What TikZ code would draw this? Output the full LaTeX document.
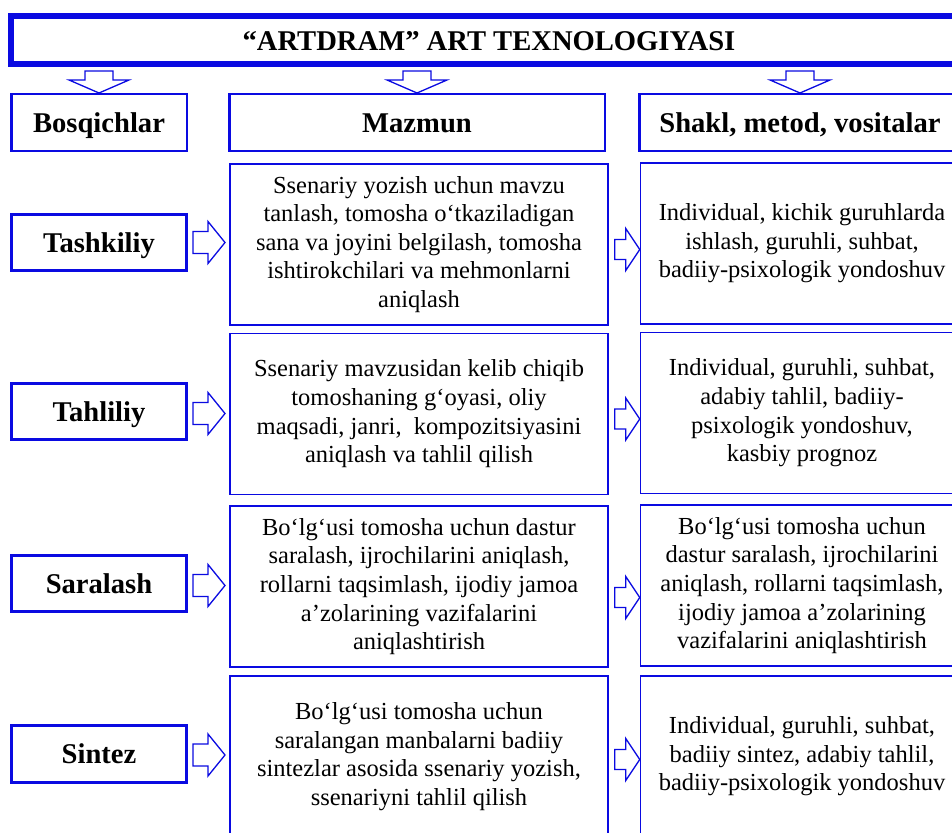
\documentclass[tikz,border=0pt]{standalone}
\usepackage{fontspec}
\setmainfont{Liberation Serif}
\usetikzlibrary{calc}
\definecolor{frameblue}{RGB}{10,10,225}
\tikzset{
  titlebox/.style={draw=frameblue, line width=6pt, minimum width=956pt, minimum height=48pt,
    text height=20pt, text depth=0pt, font=\bfseries\fontsize{28.6}{33}\selectfont},
  headbox/.style={draw=frameblue, line width=2.5pt, minimum height=56.5pt,
    text height=19.5pt, text depth=0pt, font=\bfseries\fontsize{28.6}{33}\selectfont},
  stagebox/.style={draw=frameblue, line width=3pt, minimum width=175pt, minimum height=56.5pt,
    text height=19.5pt, text depth=0pt, font=\bfseries\fontsize{28.6}{33}\selectfont},
  textbox/.style={draw=frameblue, line width=1.5pt, minimum height=161pt, align=center,
    inner sep=0pt, font=\fontsize{24.5}{28.6}\selectfont},
  midbox/.style={textbox, minimum width=378pt},
  formbox/.style={textbox, minimum width=323pt},
  hollow/.style={draw=frameblue, fill=white, line width=1.3pt, line join=miter},
  downarr/.pic={\draw[hollow] (-14,0) -- (-14,9) -- (-30,9) -- (0,22) -- (30,9) -- (14,9) -- (14,0) -- cycle;},
  stagearr/.pic={\draw[hollow] (0,-11) -- (15,-11) -- (15,-21) -- (32,0) -- (15,21) -- (15,11) -- (0,11) -- cycle;},
  formarr/.pic={\draw[hollow] (0,-10) -- (11,-10) -- (11,-21) -- (25,0) -- (11,21) -- (11,10) -- (0,10) -- cycle;}
}
\begin{document}
\begin{tikzpicture}[x=1pt,y=-1pt]
  \useasboundingbox (0,0) rectangle (952,832);
  \clip (0,0) rectangle (952,832);
  \node [titlebox] (title) at (489,40.5) {“ARTDRAM” ART TEXNOLOGIYASI};

  \node [headbox, minimum width=175.5pt] (bosq) at (99,122.5) {Bosqichlar};
  \node [headbox, minimum width=375.5pt] (mazm) at (417,122.5) {Mazmun};
  \node [headbox, minimum width=321.5pt] (shak) at (800,122.5) {Shakl, metod, vositalar};
  \pic at ($(bosq.north)+(0,-22)$) {downarr};
  \pic at ($(mazm.north)+(0,-22)$) {downarr};
  \pic at ($(shak.north)+(0,-22)$) {downarr};

  \node [stagebox] (tash) at (99,242.5) {Tashkiliy};
  \node [stagebox] (tahl) at (99,411.5) {Tahliliy};
  \node [stagebox] (sara) at (99,583.5) {Saralash};
  \node [stagebox] (sint) at (99,754) {Sintez};

  \node [midbox] (mid1) at (419,244.5) {Ssenariy yozish uchun mavzu\\ tanlash, tomosha o‘tkaziladigan\\ sana va joyini belgilash, tomosha\\ ishtirokchilari va mehmonlarni\\ aniqlash};
  \node [midbox] (mid2) at (419,414) {Ssenariy mavzusidan kelib chiqib\\ tomoshaning g‘oyasi, oliy\\ maqsadi, janri,\ \ kompozitsiyasini\\ aniqlash va tahlil qilish};
  \node [midbox] (mid3) at (419,586.5) {Bo‘lg‘usi tomosha uchun dastur\\ saralash, ijrochilarini aniqlash,\\ rollarni taqsimlash, ijodiy jamoa\\ a’zolarining vazifalarini\\ aniqlashtirish};
  \node [midbox] (mid4) at (419,756.5) {Bo‘lg‘usi tomosha uchun\\ saralangan manbalarni badiiy\\ sintezlar asosida ssenariy yozish,\\ ssenariyni tahlil qilish};

  \node [formbox] (frm1) at (802,243.5) {Individual, kichik guruhlarda\\ ishlash, guruhli, suhbat,\\ badiiy-psixologik yondoshuv};
  \node [formbox] (frm2) at (802,413) {Individual, guruhli, suhbat,\\ adabiy tahlil, badiiy-\\ psixologik yondoshuv,\\ kasbiy prognoz};
  \node [formbox] (frm3) at (802,585.5) {Bo‘lg‘usi tomosha uchun\\ dastur saralash, ijrochilarini\\ aniqlash, rollarni taqsimlash,\\ ijodiy jamoa a’zolarining\\ vazifalarini aniqlashtirish};
  \node [formbox] (frm4) at (802,756.5) {Individual, guruhli, suhbat,\\ badiiy sintez, adabiy tahlil,\\ badiiy-psixologik yondoshuv};

  \pic at ($(tash.east)+(5,0)$) {stagearr};
  \pic at ($(tahl.east)+(5,2)$) {stagearr};
  \pic at ($(sara.east)+(5,2)$) {stagearr};
  \pic at ($(sint.east)+(5,1)$) {stagearr};

  \pic at ($(frm1.west)+(-25,6)$) {formarr};
  \pic at ($(frm2.west)+(-25,6)$) {formarr};
  \pic at ($(frm3.west)+(-25,12)$) {formarr};
  \pic at ($(frm4.west)+(-25,3)$) {formarr};
\end{tikzpicture}
\end{document}
